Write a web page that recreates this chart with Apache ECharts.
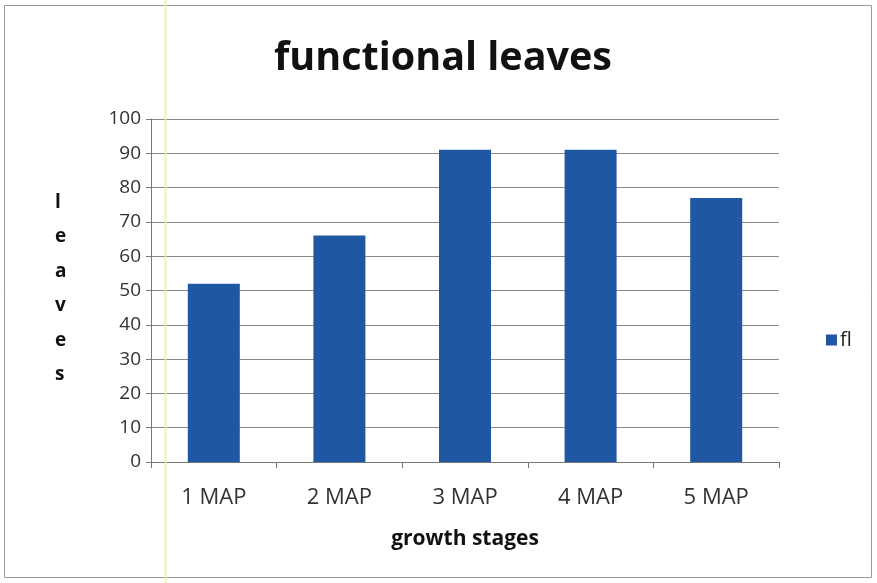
<!DOCTYPE html>
<html>
<head>
<meta charset="utf-8">
<script src="https://cdn.jsdelivr.net/npm/echarts@6/dist/echarts.min.js"></script>
<style>
  html, body { margin: 0; padding: 0; background: #fff; }
  #chart { width: 877px; height: 583px; }
</style>
</head>
<body>
<div id="chart"></div>
<script>
// Functional leaves per growth stage
const categories = ['1 MAP', '2 MAP', '3 MAP', '4 MAP', '5 MAP'];
const flValues = [52, 66, 91, 91, 77];
const yTicks = [0, 10, 20, 30, 40, 50, 60, 70, 80, 90, 100];

const FONT = '"Open Sans", "Liberation Sans", sans-serif';
const chart = echarts.init(document.getElementById('chart'));

chart.setOption({
  animation: false,
  backgroundColor: '#ffffff',
  title: {
    text: 'functional leaves',
    left: 274,
    top: 39,
    padding: 0,
    textStyle: { fontFamily: FONT, fontSize: 39.5, fontWeight: 'bold', color: '#111' }
  },
  legend: {
    data: ['fl'],
    orient: 'vertical',
    left: 821,
    top: 325,
    itemWidth: 11,
    itemHeight: 11,
    itemGap: 4,
    icon: 'rect',
    textStyle: { fontFamily: FONT, fontSize: 20, color: '#222', padding: [0, 0, 0, -2] }
  },
  grid: { left: 151, right: 98, top: 119, bottom: 121 },
  xAxis: {
    type: 'category',
    data: categories,
    name: 'growth stages',
    nameLocation: 'middle',
    nameGap: 67,
    nameTextStyle: { fontFamily: FONT, fontSize: 21, fontWeight: 'bold', color: '#111' },
    axisLine: { lineStyle: { color: '#777', width: 1 } },
    axisTick: { show: true, length: 6, lineStyle: { color: '#777' } },
    axisLabel: { fontFamily: FONT, fontSize: 22, color: '#333', margin: 25 }
  },
  yAxis: {
    type: 'value',
    min: yTicks[0],
    max: yTicks[yTicks.length - 1],
    interval: 10,
    axisLine: { show: true, lineStyle: { color: '#777', width: 1 } },
    axisTick: { show: true, length: 5, lineStyle: { color: '#777' } },
    axisLabel: { fontFamily: FONT, fontSize: 19, color: '#333', margin: 10 },
    splitLine: { lineStyle: { color: '#8a8a8a', width: 1 } }
  },
  graphic: [
    // vertical axis title, one letter per line
    {
      type: 'text',
      left: 55,
      top: 185,
      style: {
        text: 'l\ne\na\nv\ne\ns',
        fontFamily: FONT,
        fontSize: 19,
        fontWeight: 'bold',
        fill: '#111',
        lineHeight: 34.5,
        align: 'center'
      }
    },
    // outer frame
    {
      type: 'rect',
      shape: { x: 4.5, y: 5.5, width: 867, height: 572 },
      style: { fill: 'none', stroke: '#9a9a9a', lineWidth: 1 },
      z: -1
    },
    // faint yellow vertical line
    {
      type: 'line',
      shape: { x1: 165.5, y1: 0, x2: 165.5, y2: 583 },
      style: { stroke: '#f4f08a', lineWidth: 1.5 },
      z: 100
    }
  ],
  series: [{
    name: 'fl',
    type: 'bar',
    data: flValues,
    barWidth: 52,
    itemStyle: { color: '#1f57a3' }
  }]
});
</script>
</body>
</html>
